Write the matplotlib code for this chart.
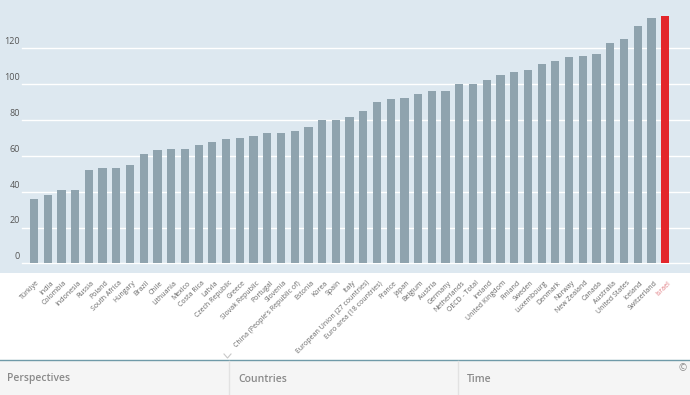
import matplotlib
matplotlib.use("Agg")
import matplotlib.pyplot as plt
from matplotlib.transforms import blended_transform_factory, offset_copy
from matplotlib.patches import Rectangle
from matplotlib.lines import Line2D

plt.rcParams['font.family'] = ['Open Sans', 'DejaVu Sans']

countries = ["Türkiye", "India", "Colombia", "Indonesia", "Russia", "Poland", "South Africa",
             "Hungary", "Brazil", "Chile", "Lithuania", "Mexico", "Costa Rica", "Latvia",
             "Czech Republic", "Greece", "Slovak Republic", "Portugal", "Slovenia",
             "China (People's Republic of)", "Estonia", "Korea", "Spain", "Italy",
             "European Union (27 countries)", "Euro area (18 countries)", "France", "Japan",
             "Belgium", "Austria", "Germany", "Netherlands", "OECD - Total", "Ireland",
             "United Kingdom", "Finland", "Sweden", "Luxembourg", "Denmark", "Norway",
             "New Zealand", "Canada", "Australia", "United States", "Iceland", "Switzerland",
             "Israel"]
values = [36, 38, 41, 41, 52, 53, 53, 55, 61, 63, 63.8, 64, 66, 68,
          69.3, 70.2, 71.1, 73, 73, 74.1, 76, 80, 80, 81.9,
          85.1, 90, 91.5, 92.2, 94.8, 96.3, 96.3, 100.2, 100.2, 102.2,
          105.2, 107, 108, 111.2, 113, 115.3, 116, 116.9, 123.2, 125.1,
          132.4, 137.2, 138.3]
highlight = "Israel"
yticks = [0, 20, 40, 60, 80, 100, 120]
panel_labels = ["Perspectives", "Countries", "Time"]

W, H = 690, 395
fig = plt.figure(figsize=(W / 100, H / 100), dpi=100)
fig.patch.set_facecolor('white')

ax_top_px, ax_bot_px = 0, 273
ax = fig.add_axes([0, 1 - ax_bot_px / H, 1, (ax_bot_px - ax_top_px) / H])
ax.set_facecolor('#dde8f0')
for s in ax.spines.values():
    s.set_visible(False)

x = list(range(len(countries)))
colors = ['#e3262b' if c == highlight else '#8fa3ae' for c in countries]

# gridlines
for v in yticks:
    ax.axhline(v, xmin=22 / W, xmax=1, color='white', lw=1.0, zorder=1)

ax.bar(x, values, width=0.6, color=colors, zorder=2)

ax.set_xlim(-34 / 13.72, (W - 34) / 13.72)
ax.set_ylim(-5.4, 147)
ax.set_xticks([])
ax.set_yticks([])

trans = blended_transform_factory(ax.transAxes, ax.transData)
trans = offset_copy(trans, fig=fig, x=0, y=1.5, units='points')
for v in yticks:
    ax.text(20 / W, v, str(v), transform=trans, ha='right', va='bottom',
            fontsize=6.5, color='#555555')

# x labels
xtrans = blended_transform_factory(ax.transData, fig.transFigure)
for i, c in enumerate(countries):
    col = '#e07a80' if c == highlight else '#666666'
    ax.text(i + 0.35, 1 - 282 / H, c, transform=xtrans, rotation=45,
            rotation_mode='anchor', ha='right', va='center',
            fontsize=5.0, color=col, clip_on=False)

# bottom panel
panel_top = 360
fig.patches.append(Rectangle((0, 0), 1, (H - panel_top) / H, transform=fig.transFigure,
                             facecolor='#f5f5f5', edgecolor='none', zorder=0))
fig.lines.append(Line2D([0, 1], [(H - panel_top) / H] * 2, transform=fig.transFigure,
                        color='#6f9aa8', lw=1.0))
for xs in [229, 458]:
    fig.lines.append(Line2D([xs / W, xs / W], [0, (H - panel_top - 1) / H],
                            transform=fig.transFigure, color='#e2e2e2', lw=1.0))
for xs, lab in zip([7, 238, 467], panel_labels):
    fig.text(xs / W, 1 - 379 / H, lab, ha='left', va='center', fontsize=7.5,
             color='#8a8a8a', fontweight='semibold')
fig.text(683 / W, 1 - 369 / H, "©", ha='center', va='center', fontsize=7, color='#8a8a8a')
# small chevron
fig.lines.append(Line2D([224 / W, 227.5 / W, 231 / W], [1 - 354 / H, 1 - 358 / H, 1 - 354 / H],
                        transform=fig.transFigure, color='#c8c8c8', lw=0.8))

fig.savefig("out.png", dpi=100)
